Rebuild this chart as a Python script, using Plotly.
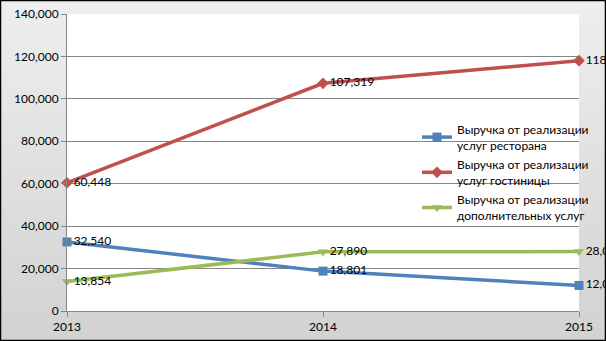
import base64
import plotly.graph_objects as go

# Revenue by year
years = [2013, 2014, 2015]
restaurant = [32540, 18801, 12050]
hotel = [60448, 107319, 118000]
additional = [13854, 27890, 28020]

series_names = [
    "Выручка от реализации<br>услуг ресторана",
    "Выручка от реализации<br>услуг гостиницы",
    "Выручка от реализации<br>дополнительных услуг",
]
series_colors = ["#4F81BD", "#C0504D", "#9BBB59"]
series_symbols = ["square", "diamond", "triangle-down"]

W, H = 606, 341
ML, MR, MT, MB = 67, 27, 14, 30
PW, PH = W - ML - MR, H - MT - MB

FONT = "Lato, Carlito, Calibri, sans-serif"

fig = go.Figure()
for i, (name, vals, col, sym) in enumerate(zip(series_names, [restaurant, hotel, additional], series_colors, series_symbols)):
    fig.add_trace(go.Scatter(
        x=years, y=vals, name=name, legendgroup=f"g{i}",
        mode="lines+markers+text",
        line=dict(color=col, width=3.5),
        marker=dict(color=col, symbol=sym, size=9),
        texttemplate="%{y:,d}",
        textposition="middle right",
        textfont=dict(color="#000000", size=12, family=FONT),
        cliponaxis=False,
    ))

# Grey vertical gradient for the chart background
svg = (
    f'<svg xmlns="http://www.w3.org/2000/svg" width="{W}" height="{H}">'
    '<defs><linearGradient id="g" x1="0" y1="0" x2="0" y2="1">'
    '<stop offset="0" stop-color="#eeeeee"/><stop offset="1" stop-color="#d2d2d2"/>'
    '</linearGradient></defs>'
    f'<rect width="{W}" height="{H}" fill="url(#g)"/></svg>'
)
src = "data:image/svg+xml;base64," + base64.b64encode(svg.encode()).decode()

fig.add_layout_image(dict(
    source=src, xref="paper", yref="paper",
    x=-ML / PW, y=1 + MT / PH, sizex=W / PW, sizey=H / PH,
    xanchor="left", yanchor="top", sizing="stretch", layer="below",
))

# White plot area and outer frame
fig.add_shape(type="rect", xref="paper", yref="paper", x0=0, x1=1, y0=0, y1=1,
              fillcolor="white", line=dict(width=0), layer="below")
fig.add_shape(type="rect", xref="paper", yref="paper",
              x0=-ML / PW + 0.5 / PW, x1=1 + MR / PW - 0.5 / PW,
              y0=-MB / PH + 0.5 / PH, y1=1 + MT / PH - 0.5 / PH,
              line=dict(color="#000000", width=1.5), fillcolor="rgba(0,0,0,0)", layer="above")

fig.update_layout(
    width=W, height=H,
    margin=dict(l=ML, r=MR, t=MT, b=MB, pad=0, autoexpand=False),
    paper_bgcolor="#e0e0e0",
    plot_bgcolor="rgba(0,0,0,0)",
    font=dict(family=FONT, size=12, color="#000000"),
    showlegend=True,
    legend=dict(
        x=(417 - ML) / PW, y=(MT + PH - 115) / PH,
        xanchor="left", yanchor="top",
        bgcolor="rgba(0,0,0,0)",
        font=dict(size=12, family=FONT, color="#000000"),
        tracegroupgap=1,
    ),
    xaxis=dict(
        range=[2013, 2015], tickvals=years, ticktext=[str(y) for y in years],
        showgrid=False, zeroline=False, automargin=False,
        showline=True, linecolor="#868686", linewidth=1,
        ticks="outside", ticklen=5, tickcolor="#868686",
        tickfont=dict(size=12, family=FONT),
    ),
    yaxis=dict(
        range=[0, 140000], dtick=20000, tickformat=",d",
        showgrid=True, gridcolor="#868686", gridwidth=1,
        zeroline=False, automargin=False,
        showline=True, linecolor="#868686", linewidth=1,
        ticks="outside", ticklen=5, tickcolor="#868686",
        tickfont=dict(size=12, family=FONT),
    ),
)

fig.write_html("out.html")
